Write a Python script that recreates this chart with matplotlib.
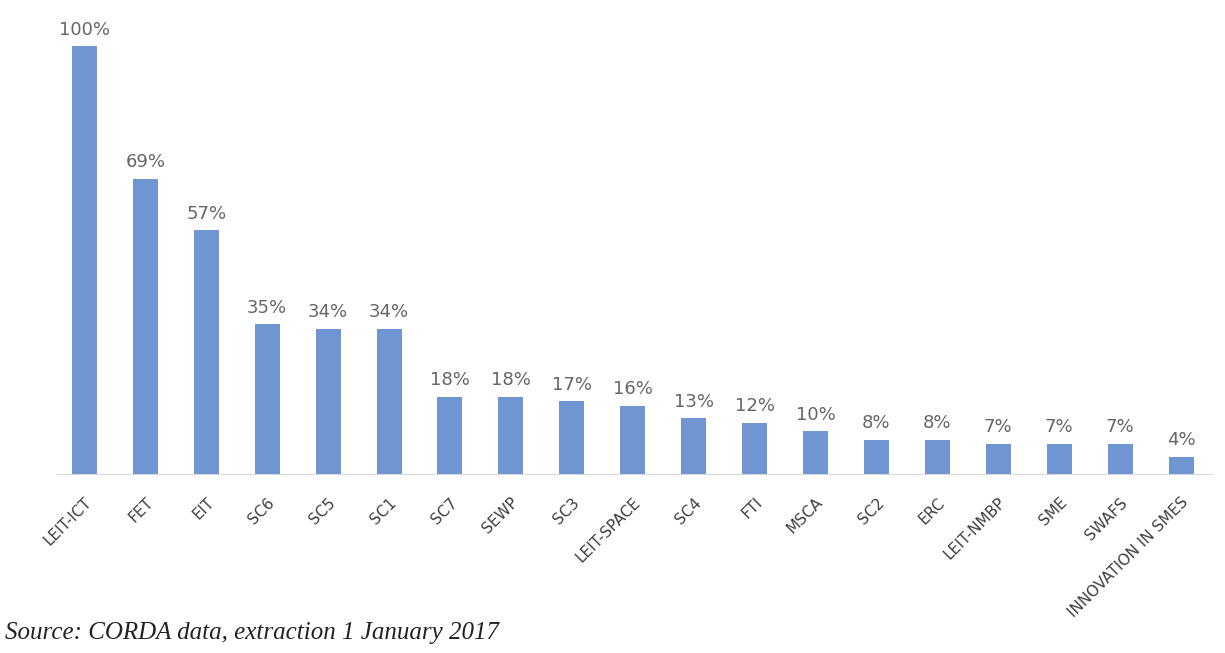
import numpy as np
import matplotlib.pyplot as plt

# programme parts (labels are hard to read in the source, best guess)
parts = ['LEIT-ICT', 'FET', 'EIT', 'SC6', 'SC5', 'SC1', 'SC7', 'SEWP', 'SC3',
         'LEIT-SPACE', 'SC4', 'FTI', 'MSCA', 'SC2', 'ERC', 'LEIT-NMBP', 'SME',
         'SWAFS', 'INNOVATION IN SMES']
shares = [100, 69, 57, 35, 34, 34, 18, 18, 17, 16, 13, 12, 10, 8, 8, 7, 7, 7, 4]
share_labels = [f'{v}%' for v in shares]

fig = plt.figure(figsize=(12.25, 6.53), dpi=100)
ax = fig.add_axes([0.0465, 0.274, 0.9425, 0.655])

x = np.arange(len(parts))
bars = ax.bar(x, shares, width=0.41, color='#6f95d3')

for b, lab in zip(bars, share_labels):
    ax.text(b.get_x() + b.get_width() / 2, b.get_height() + 1.8, lab,
            ha='center', va='bottom', fontsize=13, color='#666666',
            clip_on=False)

ax.set_xlim(-0.45, len(parts) - 0.5)
ax.set_ylim(0, 100)
ax.set_xticks(x)
ax.set_xticklabels(parts, rotation=45, ha='right', rotation_mode='anchor',
                   fontsize=11, color='#404040')
ax.tick_params(axis='x', length=0, pad=15)
ax.set_yticks([])
for side in ['top', 'right', 'left']:
    ax.spines[side].set_visible(False)
ax.spines['bottom'].set_color('#d9d9d9')

fig.text(0.004, 0.022, 'Source: CORDA data, extraction 1 January 2017',
         fontsize=18, style='italic', family='Liberation Serif', color='#222222')

fig.savefig('out.png', dpi=100)
